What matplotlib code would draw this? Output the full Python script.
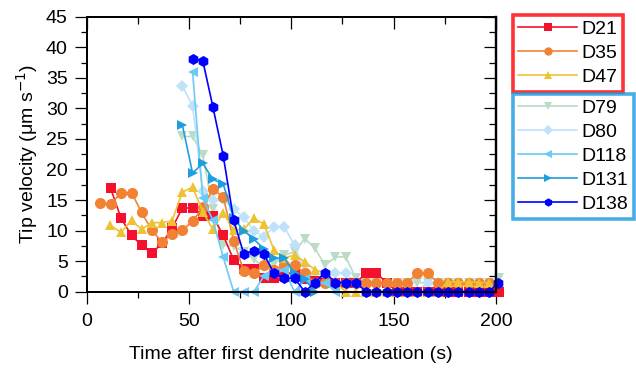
import numpy as np
import matplotlib.pyplot as plt
from matplotlib.lines import Line2D

plt.rcParams['font.family'] = ['Liberation Sans', 'DejaVu Sans']

# Tip velocity (um/s) against time after first dendrite nucleation (s)
t_d21 = [11.8, 16.9, 22.0, 26.9, 31.8, 36.9, 41.8, 46.8, 51.8, 56.8, 61.7, 66.8, 71.9, 76.8,
         81.7, 86.6, 91.6, 96.6, 101.6, 106.6, 111.6, 116.6, 121.6, 126.6, 131.6, 136.6, 141.6,
         146.6, 151.6, 156.6, 161.6, 166.6, 171.6, 176.6, 181.6, 186.6, 191.6, 196.6, 201.6]
v_d21 = [16.9, 12.0, 9.2, 7.6, 6.3, 7.9, 10.4, 13.7, 13.7, 12.4, 12.4, 9.2, 5.2, 3.7,
         3.7, 2.2, 2.2, 2.5, 3.5, 2.0, 1.8, 1.7, 1.5, 1.5, 1.5, 3.0, 3.0,
         1.5, 0.0, 0.0, 0.0, 0.0, 0.0, 0.0, 0.0, 0.0, 0.0, 0.0, 0.0]

t_d35 = [6.6, 11.8, 16.9, 22.0, 26.9, 31.8, 36.9, 41.8, 46.8, 51.8, 56.8, 61.7, 66.8, 71.9,
         76.8, 81.7, 86.6, 91.6, 96.6, 101.6, 106.6, 111.6, 116.6, 121.6, 126.6, 131.6, 136.6,
         141.6, 146.6, 151.6, 156.6, 161.6, 166.6, 171.6, 176.6, 181.6, 186.6, 191.6, 196.6]
v_d35 = [14.5, 14.3, 16.2, 16.2, 13.0, 10.1, 8.1, 9.4, 10.1, 11.5, 13.8, 16.8, 15.5, 8.3,
         3.4, 3.0, 4.3, 3.5, 4.3, 4.4, 3.0, 1.5, 1.5, 1.5, 1.5, 1.5, 1.5,
         1.5, 1.5, 1.5, 1.5, 3.0, 3.0, 1.5, 1.5, 1.5, 1.5, 1.5, 1.5]

t_d47 = [11.5, 16.9, 22.0, 26.9, 31.8, 36.9, 41.8, 46.8, 51.8, 56.8, 61.7, 66.8, 71.9, 76.8,
         81.7, 86.6, 91.6, 96.6, 101.6, 106.6, 111.6, 116.6, 121.6, 126.6, 131.6, 136.6, 141.6,
         146.6, 151.6, 156.6, 161.6, 166.6, 171.6, 176.6, 181.6, 186.6, 191.6, 196.6]
v_d47 = [10.9, 9.7, 11.7, 10.2, 11.3, 11.3, 11.6, 16.3, 17.1, 13.1, 10.2, 12.9, 10.1, 10.2,
         12.0, 11.1, 6.8, 5.5, 6.0, 4.9, 3.6, 3.0, 1.5, 0.0, 0.0, 0.0, 0.0,
         0.0, 0.0, 0.0, 0.0, 0.0, 0.0, 1.6, 1.6, 1.6, 1.5, 1.5]

t_d79 = [46.8, 51.8, 56.8, 61.7, 66.8, 71.9, 76.8, 81.7, 86.6, 91.6, 96.6, 101.6, 106.6, 111.6,
         116.6, 121.6, 126.6, 131.6, 136.6, 141.6, 146.6, 151.6, 156.6, 161.6, 166.6, 171.6,
         176.6, 181.6, 186.6, 191.6, 196.6, 201.6]
v_d79 = [25.4, 25.4, 22.4, 13.5, 7.6, 7.5, 6.5, 5.3, 4.0, 4.5, 6.0, 6.5, 8.7, 7.1,
         4.3, 5.7, 5.7, 2.2, 1.5, 1.5, 1.5, 1.5, 1.5, 1.5, 1.5, 1.5,
         1.5, 1.5, 1.5, 1.5, 1.5, 2.2]

t_d80 = [46.8, 51.8, 56.8, 61.7, 66.8, 71.9, 76.8, 81.7, 86.6, 91.6, 96.6, 101.6, 106.6, 111.6,
         116.6, 121.6, 126.6, 131.6, 136.6, 141.6, 146.6, 151.6, 156.6, 161.6, 166.6, 171.6,
         176.6, 181.6, 186.6, 191.6, 196.6, 201.6]
v_d80 = [33.7, 30.4, 16.4, 15.0, 15.1, 13.5, 12.2, 10.0, 9.0, 10.6, 10.6, 7.6, 3.3, 2.0,
         3.0, 3.0, 3.0, 1.5, 0.0, 0.0, 0.0, 0.0, 0.0, 0.0, 1.5, 1.5,
         0.0, 0.0, 0.0, 0.0, 0.0, 0.0]

t_d118 = [51.8, 56.8, 61.7, 66.8, 71.9, 76.8, 81.7, 86.6, 91.6, 96.6, 101.6, 106.6, 111.6,
          116.6, 121.6]
v_d118 = [36.0, 15.3, 11.7, 5.6, 0.0, 0.0, 0.0, 2.5, 3.0, 3.5, 0.0, 2.0, 1.5,
          1.5, 0.0]

t_d131 = [46.8, 51.8, 56.8, 61.7, 66.8, 71.9, 76.8, 81.7, 86.6, 91.6, 96.6, 101.6, 106.6,
          111.6]
v_d131 = [27.3, 19.4, 21.0, 18.4, 17.6, 12.0, 10.0, 8.6, 7.0, 5.5, 5.5, 3.0, 2.0,
          0.0]

t_d138 = [51.8, 56.8, 61.7, 66.8, 71.9, 76.8, 81.7, 86.6, 91.6, 96.6, 101.6, 106.6, 111.6,
          116.6, 121.6, 126.6, 131.6, 136.6, 141.6, 146.6, 151.6, 156.6, 161.6, 166.6, 171.6,
          176.6, 181.6, 186.6, 191.6, 196.6, 201.1]
v_d138 = [38.1, 37.8, 30.3, 22.2, 11.7, 6.2, 6.7, 6.2, 3.0, 2.2, 2.2, 0.0, 1.5,
          3.1, 1.5, 1.5, 1.5, 0.0, 0.0, 0.0, 0.0, 0.0, 0.0, 0.0, 0.0,
          0.0, 0.0, 0.0, 0.0, 0.0, 1.5]

group_red = [
    ('D21', t_d21, v_d21, '#f5102e', 's'),
    ('D35', t_d35, v_d35, '#f28233', 'o'),
    ('D47', t_d47, v_d47, '#efc233', '^'),
]
group_blue = [
    ('D79', t_d79, v_d79, '#b8dcc4', 'v'),
    ('D80', t_d80, v_d80, '#bfe2fb', 'D'),
    ('D118', t_d118, v_d118, '#6ccbf4', '<'),
    ('D131', t_d131, v_d131, '#1f9ede', '>'),
    ('D138', t_d138, v_d138, '#0000ff', 'h'),
]

FS = 14

fig = plt.figure(figsize=(6.36, 3.77), dpi=100)
rect = [86.5 / 636, 1 - 291.7 / 377, (496 - 86.5) / 636, (291.7 - 16.7) / 377]
ax = fig.add_axes(rect)

# light ones first, the blue series on top like the original
order = group_blue[:2] + group_red + group_blue[2:]
for name, t, v, c, m in order:
    ms = 8 if m in ('h', 'o') else 7.5
    if m == 'D':
        ms = 6.5
    ax.plot(t, v, color=c, marker=m, markersize=ms, markeredgewidth=0,
            linewidth=1.2, clip_on=False, zorder=3)

xmaj, xmin = [0, 50, 100, 150, 200], [25, 75, 125, 175]
ymaj, ymin = np.arange(0, 46, 5), np.arange(2.5, 45, 5)

ax.set_xlim(0, 200)
ax.set_ylim(0, 45)
ax.set_xticks(xmaj)
ax.set_xticks(xmin, minor=True)
ax.set_yticks(ymaj)
ax.set_yticks(ymin, minor=True)
for s in ax.spines.values():
    s.set_linewidth(1.2)
ax.spines['right'].set_linewidth(1.6)

ax.tick_params(which='major', direction='out', length=8.5, width=0.9, labelsize=FS,
               top=False, right=False, pad=5)
ax.tick_params(which='minor', direction='out', length=4.3, width=0.9, top=False, right=False)
ax.tick_params(axis='x', which='major', pad=7)

# inward ticks on top and right
axt = ax.twiny()
axt.set_xlim(0, 200)
axt.set_xticks(xmaj)
axt.set_xticks(xmin, minor=True)
axt.tick_params(which='major', direction='in', length=8.5, width=0.9, labeltop=False)
axt.tick_params(which='minor', direction='in', length=5, width=0.9)
axr = ax.twinx()
axr.set_ylim(0, 45)
axr.set_yticks(ymaj)
axr.set_yticks(ymin, minor=True)
axr.tick_params(which='major', direction='in', length=8.5, width=0.9, labelright=False)
axr.tick_params(which='minor', direction='in', length=5, width=0.9)
for a in (axt, axr):
    for s in a.spines.values():
        s.set_linewidth(1.2)
axr.spines['right'].set_linewidth(1.6)

ax.set_xlabel('Time after first dendrite nucleation (s)', fontsize=FS, labelpad=11)
ax.set_ylabel('Tip velocity (μm s$^{-1}$)', fontsize=FS, labelpad=4)


def make_legend(group, edge, anchor):
    handles = [Line2D([], [], color=c, marker=m, markersize=6 if m != 'D' else 5,
                      markeredgewidth=0, linewidth=1.2) for _, _, _, c, m in group]
    labels = [g[0] for g in group]
    leg = fig.legend(handles, labels, loc='upper left', bbox_to_anchor=anchor,
                     frameon=True, fancybox=False, fontsize=FS, handlelength=3.0,
                     handletextpad=0.25, labelspacing=0.33, borderpad=0.28,
                     borderaxespad=0)
    frame = leg.get_frame()
    frame.set_edgecolor(edge)
    frame.set_linewidth(2.6)
    return leg


make_legend(group_red, '#ff0000', (513 / 636, 1 - 15 / 377))
make_legend(group_blue, '#1a9be0', (513 / 636, 1 - 94 / 377))

plt.savefig('out.png', dpi=100)
